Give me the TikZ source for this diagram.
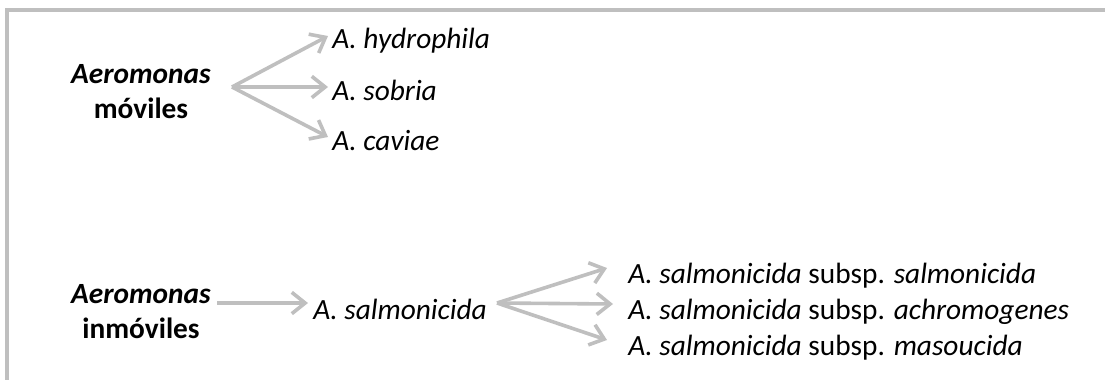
\documentclass[tikz,border=0pt]{standalone}
\usepackage{fontspec}
\setmainfont{Carlito}
\usetikzlibrary{arrows.meta}
\definecolor{lgray}{RGB}{191,191,191}
\tikzset{
  lbl/.style={inner sep=0pt, anchor=base, font=\fontsize{22}{26}\selectfont},
  lbw/.style={inner sep=0pt, anchor=base west, font=\fontsize{22}{26}\selectfont},
  arr/.style={draw=lgray, line width=2.7pt, -{Straight Barb[length=10pt,width=16pt]}},
  frame/.style={draw=lgray, line width=2.5pt}
}
\begin{document}
\begin{tikzpicture}[x=0.75pt,y=-0.75pt]
\useasboundingbox (0,0) rectangle (1105,379);
\draw[frame] (7,381) -- (7,10) -- (1107,10);

% upper group
\node[lbl] (a1) at (141,83) {\textbf{\textit{Aeromonas}}};
\node[lbl] (m1) at (141,118) {\textbf{móviles}};
\node[lbw] (h) at (332,48) {\textit{A. hydrophila}};
\node[lbw] (s) at (332,100) {\textit{A. sobria}};
\node[lbw] (c) at (332,150) {\textit{A. caviae}};
\coordinate (o1) at (232,87);
\coordinate (th) at (328,36);
\coordinate (ts) at (328,87);
\coordinate (tc) at (328,137);
\draw[arr] (o1) -- (th);
\draw[arr] (o1) -- (ts);
\draw[arr] (o1) -- (tc);

% lower group
\node[lbl] (a2) at (141,303) {\textbf{\textit{Aeromonas}}};
\node[lbl] (m2) at (141,338) {\textbf{inmóviles}};
\node[lbw] (as) at (313,319) {\textit{A. salmonicida}};
\node[lbw] (r1) at (628,283) {\textit{A. salmonicida} subsp. \textit{salmonicida}};
\node[lbw] (r2) at (628,319) {\textit{A. salmonicida} subsp. \textit{achromogenes}};
\node[lbw] (r3) at (628,355) {\textit{A. salmonicida} subsp. \textit{masoucida}};
\coordinate (o2) at (217,303);
\coordinate (t2) at (308,303);
\draw[arr] (o2) -- (t2);
\coordinate (o3) at (497,303);
\coordinate (t31) at (607,268);
\coordinate (t32) at (613,304);
\coordinate (t33) at (607,340);
\draw[arr] (o3) -- (t31);
\draw[arr] (o3) -- (t32);
\draw[arr] (o3) -- (t33);
\end{tikzpicture}
\end{document}
